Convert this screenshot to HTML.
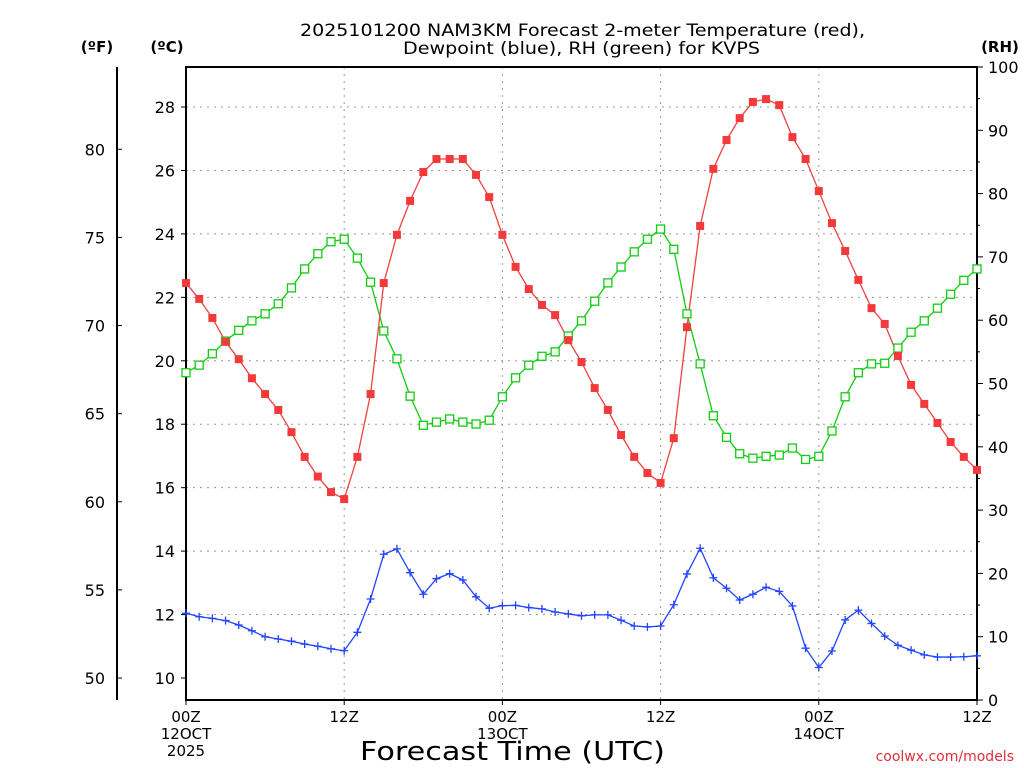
<!DOCTYPE html>
<html><head><meta charset="utf-8"><style>
body{margin:0;background:#fff;}
svg{display:block;font-family:"DejaVu Sans","Liberation Sans",sans-serif;}
</style></head><body>
<svg id="chart" width="1024" height="768" viewBox="0 0 1024 768">
<g id="grid"></g>
<g id="axes"></g>
<g id="series"></g>
<text x="300" y="36" textLength="565" lengthAdjust="spacingAndGlyphs" font-size="17">2025101200 NAM3KM Forecast 2-meter Temperature (red),</text>
<text x="403" y="54" textLength="357" lengthAdjust="spacingAndGlyphs" font-size="17">Dewpoint (blue), RH (green) for KVPS</text>
<text x="97" y="52" text-anchor="middle" font-size="15" font-weight="bold">(ºF)</text>
<text x="167" y="52" text-anchor="middle" font-size="15" font-weight="bold">(ºC)</text>
<text x="1000" y="52" text-anchor="middle" font-size="15" font-weight="bold">(RH)</text>
<text x="360" y="760" textLength="305" lengthAdjust="spacingAndGlyphs" font-size="26">Forecast Time (UTC)</text>
<text x="1014" y="761" text-anchor="end" font-size="14" fill="#e0303a">coolwx.com/models</text>
</svg>
<script>
const hours=[];for(let i=0;i<=60;i++)hours.push(i);
const tempC=[22.45,21.95,21.35,20.6,20.05,19.45,18.95,18.45,17.75,16.97,16.35,15.86,15.64,16.97,18.95,22.45,23.97,25.04,25.95,26.36,26.36,26.36,25.86,25.16,23.97,22.96,22.26,21.76,21.44,20.65,19.96,19.14,18.45,17.66,16.97,16.46,16.15,17.56,21.06,24.25,26.05,26.96,27.65,28.16,28.25,28.06,27.05,26.36,25.35,24.34,23.46,22.55,21.66,21.16,20.15,19.24,18.64,18.04,17.44,16.97,16.56];
const dewC=[12.04,11.93,11.88,11.81,11.67,11.49,11.30,11.23,11.16,11.07,11.00,10.92,10.86,11.44,12.49,13.90,14.07,13.32,12.64,13.13,13.29,13.09,12.56,12.20,12.28,12.29,12.22,12.18,12.08,12.02,11.96,11.99,11.99,11.82,11.64,11.61,11.64,12.31,13.28,14.09,13.16,12.83,12.46,12.64,12.86,12.73,12.27,10.94,10.33,10.85,11.83,12.14,11.72,11.32,11.03,10.88,10.73,10.66,10.66,10.67,10.70];
const rh=[51.7,52.9,54.7,56.7,58.4,59.9,61.0,62.6,65.1,68.1,70.5,72.4,72.8,69.8,66.0,58.3,53.9,48.0,43.4,43.9,44.4,43.9,43.6,44.2,47.9,50.9,52.9,54.3,55.0,57.5,59.9,63.0,65.9,68.4,70.8,72.8,74.4,71.2,61.0,53.1,44.9,41.5,38.9,38.2,38.5,38.7,39.8,38.0,38.5,42.5,47.9,51.7,53.1,53.2,55.6,58.1,59.9,61.9,64.1,66.3,68.1];
const cTicks=[10,12,14,16,18,20,22,24,26,28];
const fTicks=[50,55,60,65,70,75,80];
const rhTicks=[0,10,20,30,40,50,60,70,80,90,100];
const xTickHours=[0,12,24,36,48,60];
const xTickLabels=[["00Z","12OCT","2025"],["12Z"],["00Z","13OCT"],["12Z"],["00Z","14OCT"],["12Z"]];

const L=186,R=977,T=67,B=700;
const xs=h=>L+(h-0)/60*(R-L);
const yC=c=>107+(28-c)*(678-107)/18;
const yF=f=>yC((f-32)*5/9);
const yRH=r=>B-r/100*(B-T);
const NS="http://www.w3.org/2000/svg";
function mk(p,tag,at){const e=document.createElementNS(NS,tag);for(const k in at)e.setAttribute(k,at[k]);p.appendChild(e);return e;}
const grid=document.getElementById('grid'),axes=document.getElementById('axes'),ser=document.getElementById('series');

cTicks.forEach(c=>{
 if(c>10){const g=mk(grid,'line',{x1:L,x2:R,y1:yC(c),y2:yC(c),stroke:'#999','stroke-width':1,'stroke-dasharray':'2,5'});
 
 }
 const t=mk(axes,'text',{x:175,y:yC(c)+6,'text-anchor':'end','font-size':16});t.textContent=c;
 
 
 mk(axes,'line',{x1:L-5,x2:L,y1:yC(c),y2:yC(c),stroke:'#000'});
});
xTickHours.forEach((h,i)=>{
 if(h>0&&h<60){const g=mk(grid,'line',{x1:xs(h),x2:xs(h),y1:T,y2:B,stroke:'#999','stroke-width':1,'stroke-dasharray':'2,5'});
 
 }
 xTickLabels[i].forEach((s,j)=>{const t=mk(axes,'text',{x:xs(h),y:722+j*17,'text-anchor':'middle','font-size':15});t.textContent=s;
 
 });
 mk(axes,'line',{x1:xs(h),x2:xs(h),y1:B,y2:B+5,stroke:'#000'});
});
fTicks.forEach(f=>{
 const t=mk(axes,'text',{x:105,y:yF(f)+6,'text-anchor':'end','font-size':16});t.textContent=f;
 
 
 mk(axes,'line',{x1:117,x2:122,y1:yF(f),y2:yF(f),stroke:'#000'});
});
rhTicks.forEach(r=>{
 const t=mk(axes,'text',{x:988,y:yRH(r)+6,'text-anchor':'start','font-size':16});t.textContent=r;
 
 
 mk(axes,'line',{x1:R,x2:R+6,y1:yRH(r),y2:yRH(r),stroke:'#000'});
 if(r<100)mk(axes,'line',{x1:R,x2:R+3,y1:yRH(r+5),y2:yRH(r+5),stroke:'#000'});
});
mk(axes,'line',{x1:117,x2:117,y1:67,y2:700,stroke:'#000','stroke-width':2});
const fr=mk(axes,'rect',{x:L,y:T,width:R-L,height:B-T,fill:'none',stroke:'#000','stroke-width':2});



function line(vals,yf,col,name){
 const p=mk(ser,'polyline',{points:vals.map((v,i)=>xs(hours[i])+','+yf(v)).join(' '),fill:'none',stroke:col,'stroke-width':1.3});
 
 
}
line(rh,yRH,'#11cc11','rh-line');
line(tempC,yC,'#f04040','temperature-line');
line(dewC,yC,'#2244ff','dewpoint-line');
rh.forEach((v,i)=>{const m=mk(ser,'rect',{x:xs(hours[i])-4,y:yRH(v)-4,width:8,height:8,fill:'#fff',stroke:'#11cc11','stroke-width':1.3});
 
 });
tempC.forEach((v,i)=>{const m=mk(ser,'rect',{x:xs(hours[i])-4,y:yC(v)-4,width:8,height:8,fill:'#f23a3a'});
 
 });
dewC.forEach((v,i)=>{const x=xs(hours[i]),y=yC(v);const m=mk(ser,'path',{d:`M${x-4},${y}H${x+4}M${x},${y-4}V${y+4}`,stroke:'#2244ff','stroke-width':1.3});
 
 });
</script>
</body></html>
